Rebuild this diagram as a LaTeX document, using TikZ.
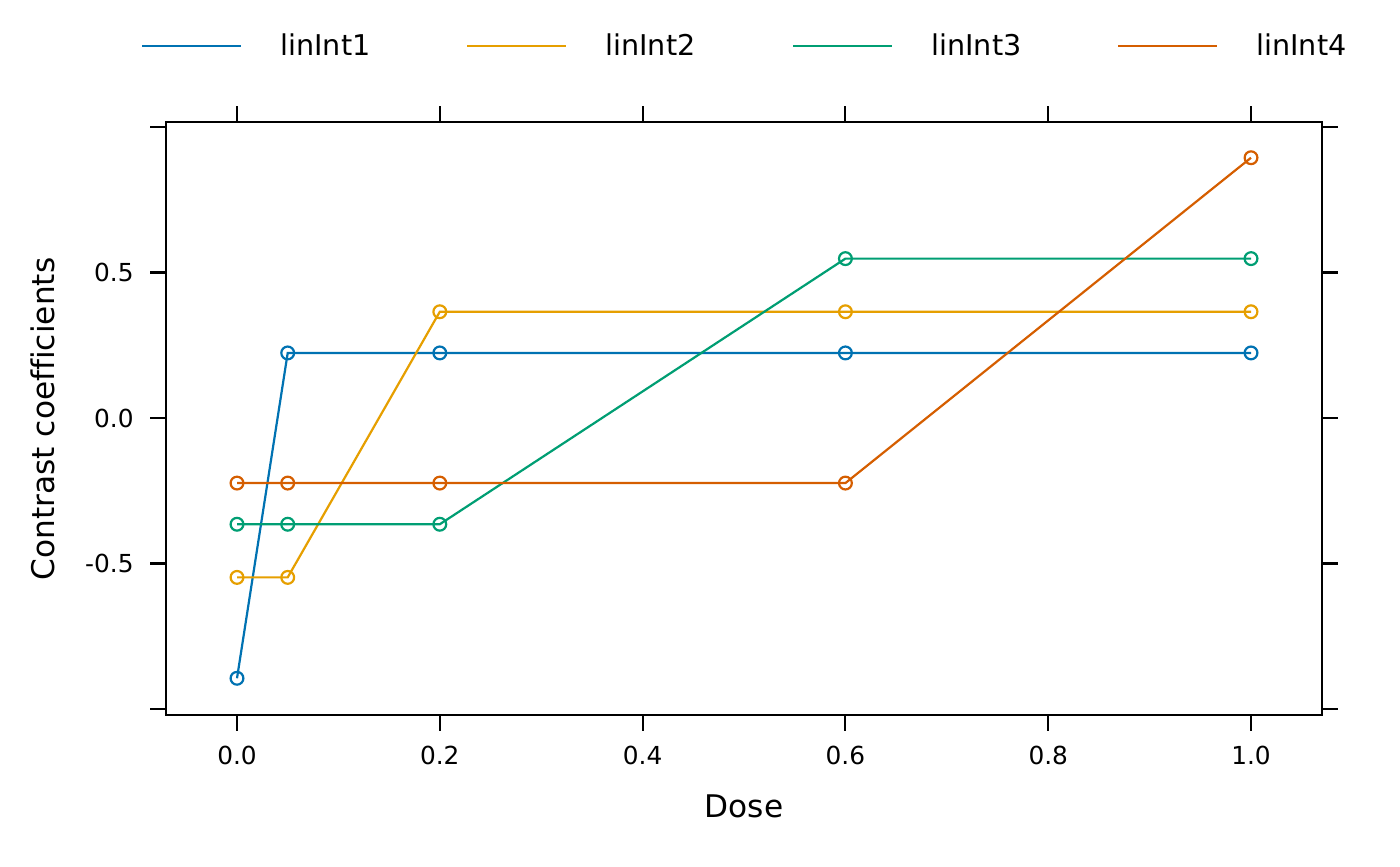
\documentclass[tikz,border=0pt]{standalone}
\usepackage{fontspec}
\setmainfont{DejaVu Sans}[Ligatures=NoCommon]
\definecolor{cblue}{HTML}{0072B2}
\definecolor{corange}{HTML}{E69F00}
\definecolor{cgreen}{HTML}{009E73}
\definecolor{cverm}{HTML}{D55E00}
\begin{document}
\begin{tikzpicture}[x=0.5pt,y=-0.5pt,
  frame/.style={line width=1.05pt,black},
  series/.style={line width=1.1pt},
  ticklab/.style={font=\fontsize{12.4}{14}\selectfont,inner sep=0pt},
  leglab/.style={font=\fontsize{14.3}{17}\selectfont,inner sep=0pt,anchor=base west},
  axtitle/.style={font=\fontsize{15.6}{18}\selectfont,inner sep=0pt,anchor=base}]
\useasboundingbox (0,0) rectangle (1400,866);
% legend
\foreach \c/\x/\t [count=\i] in {cblue/142/linInt1,corange/467/linInt2,cgreen/793/linInt3,cverm/1118/linInt4}{
  \coordinate (ls\i) at (\x,46);
  \coordinate (le\i) at ({\x+99},46);
  \draw[series,\c] (ls\i) -- (le\i);
  \node[leglab] (leg\i) at ({\x+138},56) {\t};
}
% frame
\draw[frame] (166,122) rectangle (1322,715);
% x ticks
\foreach \d/\l [count=\i] in {0/0.0,0.2/0.2,0.4/0.4,0.6/0.6,0.8/0.8,1/1.0}{
  \draw[frame] ({237+1014*\d},122) -- ++(0,-16);
  \draw[frame] ({237+1014*\d},715) -- ++(0,16);
  \node[ticklab,anchor=base] (xt\i) at ({237+1014*\d},764) {\l};
}
% y ticks
\foreach \v in {-1,-0.5,0,0.5,1}{
  \draw[frame] (166,{418-291*\v}) -- (150,{418-291*\v});
  \draw[frame] (1322,{418-291*\v}) -- (1338,{418-291*\v});
}
\foreach \v/\l [count=\i] in {-0.5/-0.5,0/0.0,0.5/0.5}{
  \node[ticklab,anchor=base east] (yt\i) at (134,{427-291*\v}) {\l};
}
% axis titles
\node[axtitle] (xtitle) at (744,817) {Dose};
\node[axtitle,rotate=90] (ytitle) at (54,419) {Contrast coefficients};
% series
\foreach \c/\a/\b/\cc/\dd/\e in {
  cblue/-0.8944/0.2236/0.2236/0.2236/0.2236,
  corange/-0.5477/-0.5477/0.3651/0.3651/0.3651,
  cgreen/-0.3651/-0.3651/-0.3651/0.5477/0.5477,
  cverm/-0.2236/-0.2236/-0.2236/-0.2236/0.8944}{
  \draw[series,\c] (237,{418-291*\a}) -- ({237+1014*0.05},{418-291*\b}) -- ({237+1014*0.2},{418-291*\cc}) -- ({237+1014*0.6},{418-291*\dd}) -- ({237+1014*1},{418-291*\e});
  \foreach \d/\v in {0/\a,0.05/\b,0.2/\cc,0.6/\dd,1/\e}{
    \draw[series,\c] ({237+1014*\d},{418-291*\v}) circle[radius=3.2pt];
  }
}
\end{tikzpicture}
\end{document}
